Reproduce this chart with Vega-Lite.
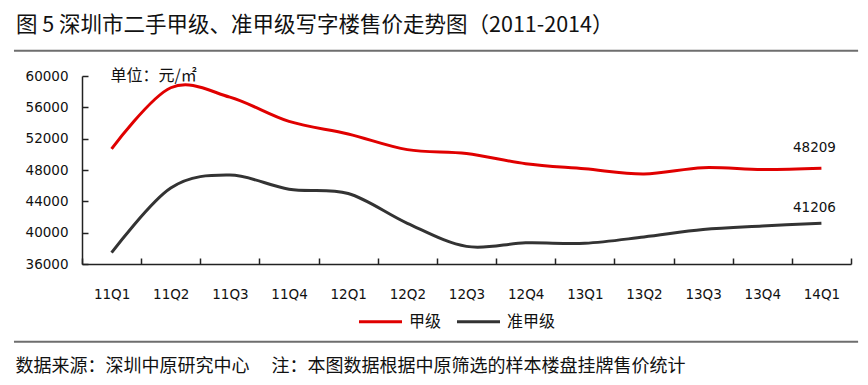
{
  "$schema": "https://vega.github.io/schema/vega-lite/v6.json",
  "width": 769,
  "height": 188,
  "autosize": "none",
  "padding": {"left": 82, "top": 76, "right": 17, "bottom": 121},
  "background": "white",
  "config": {
    "view": {"stroke": null},
    "font": "Noto Sans CJK SC",
    "axis": {
      "grid": false,
      "labelOverlap": false,
      "labelFlush": false,
      "tickSize": -6,
      "tickWidth": 1.5,
      "tickColor": "#222222",
      "domainColor": "#222222",
      "domainWidth": 1.5,
      "labelFont": "DejaVu Sans",
      "labelFontSize": 13.5,
      "labelColor": "#111111",
      "titleFont": "Noto Sans CJK SC",
      "titleFontWeight": "normal",
      "titleColor": "#111111"
    },
    "axisX": {"labelPadding": 29, "labelOffset": 29.6},
    "axisY": {"labelPadding": 20}
  },
  "title": {
    "text": "图 5 深圳市二手甲级、准甲级写字楼售价走势图（2011-2014）",
    "anchor": "start",
    "frame": "group",
    "dx": -66,
    "offset": 13,
    "fontSize": 21.5,
    "fontWeight": "normal",
    "color": "#111111",
    "font": "Noto Sans CJK SC"
  },
  "data": {
    "values": [
      {"q": "11Q1", "i": 0, "series": "甲级", "v": 50700},
      {"q": "11Q2", "i": 1, "series": "甲级", "v": 58500},
      {"q": "11Q3", "i": 2, "series": "甲级", "v": 57300},
      {"q": "11Q4", "i": 3, "series": "甲级", "v": 54200},
      {"q": "12Q1", "i": 4, "series": "甲级", "v": 52600},
      {"q": "12Q2", "i": 5, "series": "甲级", "v": 50600},
      {"q": "12Q3", "i": 6, "series": "甲级", "v": 50100},
      {"q": "12Q4", "i": 7, "series": "甲级", "v": 48800},
      {"q": "13Q1", "i": 8, "series": "甲级", "v": 48150},
      {"q": "13Q2", "i": 9, "series": "甲级", "v": 47500},
      {"q": "13Q3", "i": 10, "series": "甲级", "v": 48300},
      {"q": "13Q4", "i": 11, "series": "甲级", "v": 48050},
      {"q": "14Q1", "i": 12, "series": "甲级", "v": 48209},
      {"q": "11Q1", "i": 0, "series": "准甲级", "v": 37450},
      {"q": "11Q2", "i": 1, "series": "准甲级", "v": 45700},
      {"q": "11Q3", "i": 2, "series": "准甲级", "v": 47350},
      {"q": "11Q4", "i": 3, "series": "准甲级", "v": 45550},
      {"q": "12Q1", "i": 4, "series": "准甲级", "v": 45000},
      {"q": "12Q2", "i": 5, "series": "准甲级", "v": 41200},
      {"q": "12Q3", "i": 6, "series": "准甲级", "v": 38250},
      {"q": "12Q4", "i": 7, "series": "准甲级", "v": 38700},
      {"q": "13Q1", "i": 8, "series": "准甲级", "v": 38650},
      {"q": "13Q2", "i": 9, "series": "准甲级", "v": 39450},
      {"q": "13Q3", "i": 10, "series": "准甲级", "v": 40400},
      {"q": "13Q4", "i": 11, "series": "准甲级", "v": 40850},
      {"q": "14Q1", "i": 12, "series": "准甲级", "v": 41206}
    ]
  },
  "layer": [
    {
      "mark": {"type": "line", "interpolate": "cardinal", "strokeWidth": 3},
      "encoding": {
        "x": {
          "field": "i",
          "type": "quantitative",
          "scale": {"domain": [-0.5, 12.5], "nice": false, "zero": false},
          "axis": {
            "values": [-0.5, 0.5, 1.5, 2.5, 3.5, 4.5, 5.5, 6.5, 7.5, 8.5, 9.5, 10.5, 11.5, 12.5],
            "tickCount": 30,
            "labelExpr": "datum.value < 12 ? ['11Q1','11Q2','11Q3','11Q4','12Q1','12Q2','12Q3','12Q4','13Q1','13Q2','13Q3','13Q4','14Q1'][datum.value + 0.5] : ''",
            "title": "数据来源：深圳中原研究中心　 注：本图数据根据中原筛选的样本楼盘挂牌售价统计",
            "titleFontSize": 18,
            "titleAnchor": "start",
            "titleAlign": "left",
            "titleBaseline": "middle",
            "titleX": -67,
            "titleY": 102
          }
        },
        "y": {
          "field": "v",
          "type": "quantitative",
          "scale": {"domain": [36000, 60000], "nice": false, "zero": false},
          "axis": {
            "values": [36000, 40000, 44000, 48000, 52000, 56000, 60000],
            "tickCount": 10,
            "format": "d",
            "title": "单位：元/㎡",
            "titleAngle": 0,
            "titleFontSize": 16,
            "titleAlign": "left",
            "titleBaseline": "middle",
            "titleX": 28,
            "titleY": -1
          }
        },
        "color": {
          "field": "series",
          "type": "nominal",
          "scale": {"domain": ["甲级", "准甲级"], "range": ["#E00000", "#333333"]},
          "legend": {
            "title": null,
            "orient": "none",
            "legendX": 275,
            "legendY": 222,
            "direction": "horizontal",
            "symbolType": "stroke",
            "symbolSize": 1850,
            "symbolStrokeWidth": 3,
            "labelFontSize": 16,
            "labelColor": "#111111",
            "labelOffset": 5,
            "columnPadding": 8,
            "padding": 0
          }
        }
      }
    },
    {
      "data": {"values": [{}]},
      "mark": {"type": "rule", "color": "#6e6e6e", "strokeWidth": 2},
      "encoding": {
        "x": {"datum": -1.65, "type": "quantitative"},
        "x2": {"datum": 12.62},
        "y": {"datum": 63230, "type": "quantitative"}
      }
    },
    {
      "data": {"values": [{}]},
      "mark": {"type": "rule", "color": "#6e6e6e", "strokeWidth": 2},
      "encoding": {
        "x": {"datum": -1.65, "type": "quantitative"},
        "x2": {"datum": 12.62},
        "y": {"datum": 26081, "type": "quantitative"}
      }
    },
    {
      "transform": [{"filter": "datum.i == 12 && datum.series == '甲级'"}],
      "mark": {"type": "text", "font": "DejaVu Sans", "fontSize": 13.5, "dy": -20, "dx": -7, "color": "#111111"},
      "encoding": {
        "x": {"field": "i", "type": "quantitative"},
        "y": {"field": "v", "type": "quantitative"},
        "text": {"field": "v", "type": "quantitative", "format": "d"}
      }
    },
    {
      "transform": [{"filter": "datum.i == 12 && datum.series == '准甲级'"}],
      "mark": {"type": "text", "font": "DejaVu Sans", "fontSize": 13.5, "dy": -15, "dx": -7, "color": "#111111"},
      "encoding": {
        "x": {"field": "i", "type": "quantitative"},
        "y": {"field": "v", "type": "quantitative"},
        "text": {"field": "v", "type": "quantitative", "format": "d"}
      }
    }
  ]
}
